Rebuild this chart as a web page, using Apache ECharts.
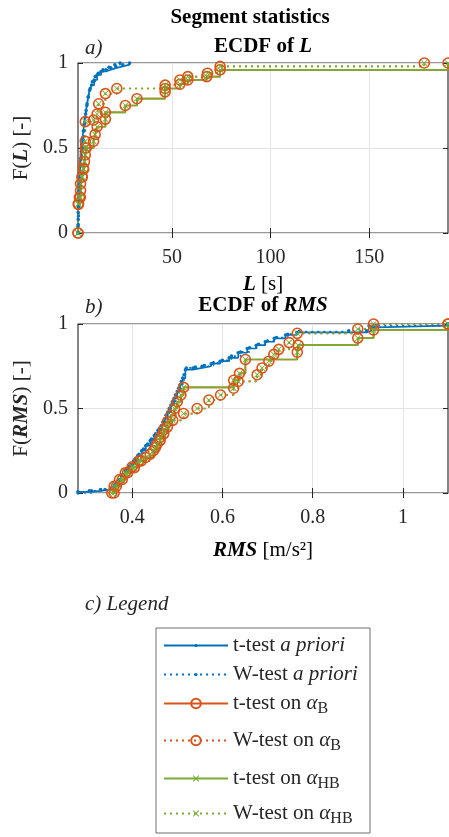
<!DOCTYPE html>
<html>
<head>
<meta charset="utf-8">
<script src="https://cdn.jsdelivr.net/npm/echarts@6/dist/echarts.min.js"></script>
<style>
  html, body { margin: 0; padding: 0; background: #fff; }
  #chart { width: 449px; height: 837px; }
</style>
</head>
<body>
<div id="chart"></div>
<script>
// ---- data: [value, F] pairs of each ECDF ----
// a) segment length L [s]
const L_tPrior = [[2.3,0],[2.3,0.04],[2.4,0.08],[2.4,0.12],[2.5,0.16],[2.6,0.2],[2.7,0.24],[2.9,0.28],[3.1,0.32],[3.3,0.36],[3.5,0.4],[3.7,0.44],[3.9,0.48],[4.2,0.52],[4.6,0.56],[5.0,0.6],[5.4,0.64],[5.9,0.68],[6.4,0.72],[6.9,0.76],[7.4,0.8],[8.2,0.84],[9.2,0.87],[10.5,0.9],[12,0.93],[14,0.95],[16.5,0.96],[19,0.97],[21.5,0.98],[25,0.99],[28.5,1]];
const L_wPrior = [[2.3,0],[2.4,0.05],[2.5,0.1],[2.6,0.15],[2.8,0.2],[3.0,0.25],[3.2,0.3],[3.5,0.35],[3.8,0.4],[4.1,0.45],[4.5,0.5],[4.9,0.55],[5.3,0.6],[5.7,0.65],[6.2,0.7],[6.8,0.75],[7.6,0.8],[8.5,0.85],[9.6,0.89],[11,0.92],[12.6,0.94],[15,0.96],[18,0.975],[21,0.99],[23.6,1]];
const L_tAlpha = [[2.3,0],[2.4,0.17],[3.5,0.21],[3.6,0.25],[4.3,0.33],[5.2,0.375],[5.6,0.42],[6.0,0.46],[6.5,0.5],[10.2,0.54],[11,0.58],[12,0.625],[16.2,0.67],[16.2,0.71],[26.3,0.75],[32.2,0.79],[46.5,0.83],[46.5,0.85],[54,0.875],[58,0.9],[67.6,0.92],[74.4,0.96],[190,1]];
const L_wAlpha = [[2.3,0],[2.6,0.17],[3.0,0.21],[3.6,0.29],[4.5,0.33],[5.0,0.38],[6.0,0.5],[6.0,0.54],[6.0,0.655],[10.2,0.665],[12,0.7],[12.8,0.76],[16.2,0.82],[22,0.85],[46.5,0.87],[54,0.9],[58,0.92],[68,0.94],[74.4,0.98],[178,1]];

// b) RMS [m/s^2]
const R_tPrior = [[0.28,0.007],[0.305,0.013],[0.33,0.02],[0.352,0.027],[0.36,0.04],[0.368,0.07],[0.376,0.1],[0.385,0.13],[0.394,0.16],[0.403,0.19],[0.412,0.22],[0.421,0.25],[0.43,0.28],[0.44,0.31],[0.449,0.34],[0.457,0.37],[0.465,0.4],[0.472,0.44],[0.479,0.48],[0.486,0.52],[0.493,0.56],[0.5,0.6],[0.506,0.64],[0.512,0.68],[0.518,0.73],[0.535,0.74],[0.555,0.75],[0.575,0.765],[0.595,0.78],[0.615,0.8],[0.635,0.83],[0.655,0.855],[0.675,0.875],[0.695,0.895],[0.715,0.915],[0.74,0.935],[0.765,0.95],[0.92,0.96],[0.93,0.98],[0.94,0.99],[1.1,1]];
const R_wPrior = [[0.28,0],[0.31,0.013],[0.34,0.02],[0.355,0.03],[0.362,0.05],[0.37,0.08],[0.379,0.11],[0.388,0.14],[0.397,0.17],[0.406,0.2],[0.415,0.23],[0.425,0.26],[0.434,0.29],[0.443,0.32],[0.452,0.35],[0.46,0.38],[0.468,0.42],[0.475,0.46],[0.482,0.5],[0.489,0.54],[0.496,0.58],[0.503,0.62],[0.509,0.66],[0.515,0.7],[0.52,0.74],[0.54,0.745],[0.56,0.755],[0.58,0.77],[0.6,0.785],[0.62,0.81],[0.64,0.835],[0.66,0.86],[0.68,0.88],[0.7,0.9],[0.72,0.92],[0.745,0.94],[0.77,0.955],[0.88,0.96],[0.925,0.99],[1.1,1]];
const R_tAlpha = [[0.355,0],[0.36,0.04],[0.372,0.08],[0.385,0.12],[0.4,0.155],[0.415,0.19],[0.43,0.21],[0.447,0.25],[0.455,0.29],[0.462,0.33],[0.47,0.375],[0.478,0.42],[0.486,0.46],[0.494,0.5],[0.5,0.54],[0.508,0.58],[0.514,0.625],[0.625,0.667],[0.638,0.708],[0.651,0.79],[0.766,0.833],[0.768,0.875],[0.9,0.917],[0.935,0.965],[1.1,1]];
const R_wAlpha = [[0.36,0],[0.365,0.04],[0.378,0.08],[0.39,0.12],[0.405,0.15],[0.42,0.19],[0.44,0.23],[0.452,0.27],[0.462,0.31],[0.47,0.35],[0.478,0.39],[0.49,0.43],[0.514,0.47],[0.544,0.5],[0.57,0.55],[0.596,0.58],[0.625,0.62],[0.635,0.66],[0.677,0.7],[0.688,0.74],[0.703,0.78],[0.714,0.82],[0.725,0.85],[0.748,0.89],[0.766,0.945],[0.9,0.97],[0.935,1],[1.1,1]];

const L_ticks = [50, 100, 150];
const R_ticks = [0.4, 0.6, 0.8, 1];

const names = ['t-test a priori', 'W-test a priori', 't-test on αB', 'W-test on αB', 't-test on αHB', 'W-test on αHB'];
const labels = {
  't-test a priori': '{n|t-test }{i|a priori}',
  'W-test a priori': '{n|W-test }{i|a priori}',
  't-test on αB': '{n|t-test on }{g|α}{s|B}',
  'W-test on αB': '{n|W-test on }{g|α}{s|B}',
  't-test on αHB': '{n|t-test on }{g|α}{s|HB}',
  'W-test on αHB': '{n|W-test on }{g|α}{s|HB}'
};

const FONT = '"Liberation Serif", "Times New Roman", serif';
const BLUE = '#0072BD', ORANGE = '#D95319', GREEN = '#77AC30';
const AXC = '#262626';
const XMARK = 'path://M0,1L1,0L5,4L9,0L10,1L6,5L10,9L9,10L5,6L1,10L0,9L4,5Z';

const myChart = echarts.init(document.getElementById('chart'));

// one ECDF drawn as MATLAB-like stairs
function stairs(name, data, idx, color, dotted, kind) {
  const s = {
    type: 'line', name: name, data: data,
    xAxisIndex: idx, yAxisIndex: idx,
    step: 'end', silent: true, animation: false,
    lineStyle: { color: color, width: 1.7, type: dotted ? [2, 4] : 'solid' }
  };
  if (kind === 'dot') {
    s.symbol = 'circle'; s.symbolSize = 3.5;
    s.itemStyle = { color: color };
  } else if (kind === 'circle') {
    s.symbol = 'circle'; s.symbolSize = 10;
    s.itemStyle = { color: 'rgba(255,255,255,0)', borderColor: color, borderWidth: 1.6 };
  } else {
    s.symbol = XMARK; s.symbolSize = 6;
    s.itemStyle = { color: color };
  }
  return s;
}

function xAxisFor(idx, min, max, ticks, name, gap, top) {
  return {
    gridIndex: idx, type: 'value', min: min, max: max,
    position: top ? 'top' : 'bottom',
    axisLine: { show: false },
    axisTick: { show: true, inside: true, length: 5, customValues: ticks, lineStyle: { color: AXC } },
    axisLabel: { show: !top, customValues: ticks, fontFamily: FONT, fontSize: 20, color: AXC, margin: 15 },
    splitLine: { show: !top, lineStyle: { color: '#e3e3e3' } },
    name: top ? '' : name, nameLocation: 'middle', nameGap: gap,
    nameTextStyle: { fontFamily: FONT, fontSize: 21, color: '#000',
      rich: { bi: { fontFamily: FONT, fontSize: 21, fontStyle: 'italic', fontWeight: 'bold', color: '#000' } } }
  };
}

function yAxisFor(idx, name, right) {
  return {
    gridIndex: idx, type: 'value', min: 0, max: 1, interval: 0.5,
    position: right ? 'right' : 'left',
    axisLine: { show: false },
    axisTick: { show: true, inside: true, length: 5, lineStyle: { color: AXC } },
    axisLabel: { show: !right, fontFamily: FONT, fontSize: 20, color: AXC, margin: 10,
      formatter: v => String(v) },
    splitLine: { show: !right, lineStyle: { color: '#e3e3e3' } },
    name: right ? '' : name, nameLocation: 'middle', nameGap: 31, nameRotate: 90,
    nameTextStyle: { fontFamily: FONT, fontSize: 21, color: AXC,
      rich: { bi: { fontFamily: FONT, fontSize: 21, fontStyle: 'italic', fontWeight: 'bold', color: AXC } } }
  };
}

// legend rows: [name, top, icon height]
const legendRows = [
  [names[0], 635, 4], [names[1], 664, 4],
  [names[2], 693, 12], [names[3], 730, 12],
  [names[4], 768, 8], [names[5], 803, 8]
];

const option = {
  backgroundColor: '#fff',
  grid: [
    { left: 78, top: 63, width: 370, height: 170, show: true, borderColor: '#333', borderWidth: 1.2, backgroundColor: '#fff' },
    { left: 78, top: 324, width: 370, height: 169, show: true, borderColor: '#333', borderWidth: 1.2, backgroundColor: '#fff' }
  ],
  xAxis: [
    xAxisFor(0, 2.3, 190, L_ticks, '{bi|L} [s]', 41, false),
    xAxisFor(1, 0.28, 1.1, R_ticks, '{bi|RMS} [m/s²]', 47, false),
    xAxisFor(0, 2.3, 190, L_ticks, '', 0, true),
    xAxisFor(1, 0.28, 1.1, R_ticks, '', 0, true)
  ],
  yAxis: [
    yAxisFor(0, 'F({bi|L}) [-]', false),
    yAxisFor(1, 'F({bi|RMS}) [-]', false),
    yAxisFor(0, '', true),
    yAxisFor(1, '', true)
  ],
  legend: legendRows.map(r => ({
    data: [r[0]], left: 163, top: r[1], orient: 'vertical', padding: 0,
    itemWidth: 64, itemHeight: r[2], selectedMode: false,
    formatter: n => labels[n],
    textStyle: {
      fontFamily: FONT, fontSize: 21, color: AXC,
      rich: {
        n: { fontFamily: FONT, fontSize: 21, color: AXC },
        i: { fontFamily: FONT, fontSize: 21, fontStyle: 'italic', color: AXC },
        g: { fontFamily: FONT, fontSize: 21, fontStyle: 'italic', color: AXC },
        s: { fontFamily: FONT, fontSize: 16, color: AXC, padding: [10, 0, 0, 0] }
      }
    }
  })),
  graphic: [
    { type: 'text', x: 250, y: 18, style: { text: 'Segment statistics', font: 'bold 21px ' + FONT, fill: '#000', align: 'center', verticalAlign: 'middle' } },
    { type: 'text', x: 263, y: 47, style: { text: '{b|ECDF of }{bi|L}', align: 'center', verticalAlign: 'middle',
      rich: { b: { fontFamily: FONT, fontSize: 21, fontWeight: 'bold', fill: '#000' }, bi: { fontFamily: FONT, fontSize: 21, fontWeight: 'bold', fontStyle: 'italic', fill: '#000' } } } },
    { type: 'text', x: 263, y: 306, style: { text: '{b|ECDF of }{bi|RMS}', align: 'center', verticalAlign: 'middle',
      rich: { b: { fontFamily: FONT, fontSize: 21, fontWeight: 'bold', fill: '#000' }, bi: { fontFamily: FONT, fontSize: 21, fontWeight: 'bold', fontStyle: 'italic', fill: '#000' } } } },
    { type: 'text', x: 85, y: 48, style: { text: 'a)', font: 'italic 21px ' + FONT, fill: AXC, verticalAlign: 'middle' } },
    { type: 'text', x: 85, y: 307, style: { text: 'b)', font: 'italic 21px ' + FONT, fill: AXC, verticalAlign: 'middle' } },
    { type: 'text', x: 85, y: 604, style: { text: 'c) Legend', font: 'italic 21px ' + FONT, fill: AXC, verticalAlign: 'middle' } },
    { type: 'rect', shape: { x: 156, y: 628, width: 214, height: 205 }, style: { fill: 'none', stroke: '#6e6e6e', lineWidth: 1 }, silent: true }
  ],
  series: [
    stairs(names[0], L_tPrior, 0, BLUE, false, 'dot'),
    stairs(names[1], L_wPrior, 0, BLUE, true, 'dot'),
    stairs(names[2], L_tAlpha, 0, ORANGE, false, 'circle'),
    stairs(names[3], L_wAlpha, 0, ORANGE, true, 'circle'),
    stairs(names[4], L_tAlpha, 0, GREEN, false, 'x'),
    stairs(names[5], L_wAlpha, 0, GREEN, true, 'x'),
    stairs(names[0], R_tPrior, 1, BLUE, false, 'dot'),
    stairs(names[1], R_wPrior, 1, BLUE, true, 'dot'),
    stairs(names[2], R_tAlpha, 1, ORANGE, false, 'circle'),
    stairs(names[3], R_wAlpha, 1, ORANGE, true, 'circle'),
    stairs(names[4], R_tAlpha, 1, GREEN, false, 'x'),
    stairs(names[5], R_wAlpha, 1, GREEN, true, 'x')
  ]
};

myChart.setOption(option);
</script>
</body>
</html>
